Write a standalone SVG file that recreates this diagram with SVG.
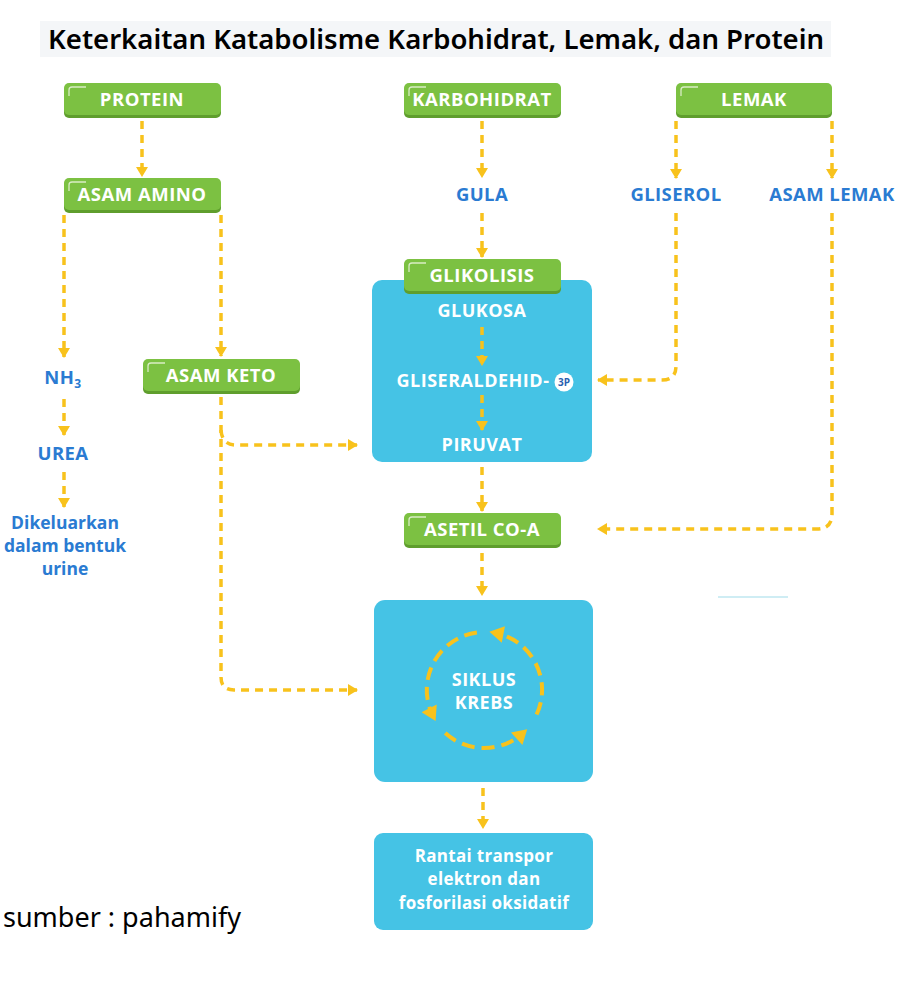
<svg xmlns="http://www.w3.org/2000/svg" width="914" height="987" viewBox="0 0 914 987">
<defs>
<marker id="arr" viewBox="0 0 10 12" refX="9" refY="6" markerWidth="10" markerHeight="12" markerUnits="userSpaceOnUse" orient="auto">
<path d="M0,0 L10,6 L0,12 z" fill="#f8c21c"/>
</marker>
<marker id="arrK" viewBox="0 0 10 12" refX="6" refY="6" markerWidth="15" markerHeight="17" markerUnits="userSpaceOnUse" orient="auto">
<path d="M0,0 L10,6 L0,12 z" fill="#f8c21c"/>
</marker>
<style>
.gbox{fill:#7cc142}
.gsh{fill:#5f9e2d}
.hl{fill:none;stroke:#e9f5dc;stroke-width:1.3;opacity:.85}
.bbox{fill:#45c3e5}
.gt{font-family:"Open Sans","Noto Sans",sans-serif;font-weight:700;font-size:18.5px;fill:#ffffff;text-anchor:middle;letter-spacing:0.5px}
.bt{font-family:"Open Sans","Noto Sans",sans-serif;font-weight:700;font-size:18.5px;fill:#2a7bd2;text-anchor:middle;letter-spacing:0.4px}
.lt{font-family:"Open Sans","Noto Sans",sans-serif;font-weight:700;font-size:17.5px;fill:#2a7bd2;text-anchor:middle}
.wt{font-family:"Open Sans","Noto Sans",sans-serif;font-weight:700;font-size:18px;fill:#ffffff;text-anchor:middle;letter-spacing:0.5px}
.st{font-family:"Open Sans","Noto Sans",sans-serif;font-weight:700;font-size:17px;fill:#ffffff;text-anchor:middle;letter-spacing:0.3px}
.con{fill:none;stroke:#f8c21c;stroke-width:3.5;stroke-dasharray:8 6}
.kc{fill:none;stroke:#f8c21c;stroke-width:4;stroke-dasharray:13 7}
</style>
</defs>
<rect width="914" height="987" fill="#ffffff"/>
<g id="title">
<rect x="40" y="21" width="791" height="36" fill="#f4f6f8"/>
<text x="48" y="49" font-family="'Noto Sans','Open Sans',sans-serif" font-weight="600" font-size="27" fill="#000000" textLength="776" lengthAdjust="spacingAndGlyphs">Keterkaitan Katabolisme Karbohidrat, Lemak, dan Protein</text>
</g>
<line x1="718" y1="597" x2="788" y2="597" stroke="#bfe7f1" stroke-width="1.5"/>

<g id="glikolisis-box">
<rect class="bbox" x="372" y="280" width="220" height="182" rx="10"/>
<text class="wt" x="482" y="317">GLUKOSA</text>
<text class="wt" x="473" y="387">GLISERALDEHID-</text>
<circle cx="564" cy="382" r="9.5" fill="#ffffff"/>
<text x="564" y="386" font-family="'Open Sans',sans-serif" font-weight="700" font-size="10" fill="#2a5fb0" text-anchor="middle">3P</text>
<text class="wt" x="482" y="451">PIRUVAT</text>
</g>
<g id="krebs-box">
<rect class="bbox" x="374" y="600" width="219" height="182" rx="11"/>
<text class="wt" x="484" y="686">SIKLUS</text>
<text class="wt" x="484" y="709">KREBS</text>
<path class="kc" d="M536.6,714.5 A58,58 0 0 0 495,632.9" marker-end="url(#arrK)"/>
<path class="kc" d="M476.9,632.4 A58,58 0 0 0 433,716" marker-end="url(#arrK)"/>
<path class="kc" d="M445.2,733.1 A58,58 0 0 0 523,733" marker-end="url(#arrK)"/>
</g>
<g id="rantai-box">
<rect class="bbox" x="374" y="833" width="219" height="97" rx="9"/>
<text class="st" x="484" y="862">Rantai transpor</text>
<text class="st" x="484" y="885">elektron dan</text>
<text class="st" x="484" y="909">fosforilasi oksidatif</text>
</g>

<g id="protein">
<rect class="gsh" x="64" y="85" width="157" height="33" rx="5"/>
<rect class="gbox" x="64" y="83" width="157" height="32" rx="5"/>
<path class="hl" d="M69,96 V90 Q69,87 72,87 H86"/>
<text class="gt" x="142" y="106">PROTEIN</text>
</g>
<g id="asam-amino">
<rect class="gsh" x="64" y="180" width="157" height="33" rx="5"/>
<rect class="gbox" x="64" y="178" width="157" height="32" rx="5"/>
<path class="hl" d="M69,191 V185 Q69,182 72,182 H86"/>
<text class="gt" x="142" y="201">ASAM AMINO</text>
</g>
<g id="karbohidrat">
<rect class="gsh" x="404" y="85" width="157" height="33" rx="5"/>
<rect class="gbox" x="404" y="83" width="157" height="32" rx="5"/>
<path class="hl" d="M409,96 V90 Q409,87 412,87 H426"/>
<text class="gt" x="482" y="106">KARBOHIDRAT</text>
</g>
<g id="lemak">
<rect class="gsh" x="676" y="85" width="156" height="33" rx="5"/>
<rect class="gbox" x="676" y="83" width="156" height="32" rx="5"/>
<path class="hl" d="M681,96 V90 Q681,87 684,87 H698"/>
<text class="gt" x="754" y="106">LEMAK</text>
</g>
<g id="asam-keto">
<rect class="gsh" x="143" y="361" width="157" height="33" rx="5"/>
<rect class="gbox" x="143" y="359" width="157" height="32" rx="5"/>
<path class="hl" d="M148,372 V366 Q148,363 151,363 H165"/>
<text class="gt" x="221" y="382">ASAM KETO</text>
</g>
<g id="glikolisis">
<rect class="gsh" x="404" y="261" width="157" height="33" rx="5"/>
<rect class="gbox" x="404" y="259" width="157" height="32" rx="5"/>
<path class="hl" d="M409,272 V266 Q409,263 412,263 H426"/>
<text class="gt" x="482" y="282">GLIKOLISIS</text>
</g>
<g id="asetil">
<rect class="gsh" x="404" y="515" width="157" height="33" rx="5"/>
<rect class="gbox" x="404" y="513" width="157" height="32" rx="5"/>
<path class="hl" d="M409,526 V520 Q409,517 412,517 H426"/>
<text class="gt" x="482" y="536">ASETIL CO-A</text>
</g>

<g id="gula"><text class="bt" x="482" y="201">GULA</text></g>
<g id="gliserol"><text class="bt" x="676" y="201">GLISEROL</text></g>
<g id="asam-lemak"><text class="bt" x="832" y="201">ASAM LEMAK</text></g>
<g id="nh3"><text class="bt" x="63" y="384">NH<tspan font-size="12" dy="4">3</tspan></text></g>
<g id="urea"><text class="bt" x="63" y="460">UREA</text></g>
<g id="dikeluarkan">
<text class="lt" x="65" y="529">Dikeluarkan</text>
<text class="lt" x="65" y="552">dalam bentuk</text>
<text class="lt" x="65" y="575">urine</text>
</g>

<g id="connectors">
<path class="con" d="M142,121 L142,176" marker-end="url(#arr)"/>
<path class="con" d="M64,215 L64,357" marker-end="url(#arr)"/>
<path class="con" d="M221,215 L221,356" marker-end="url(#arr)"/>
<path class="con" d="M64,399 L64,435" marker-end="url(#arr)"/>
<path class="con" d="M64,472 L64,507" marker-end="url(#arr)"/>
<path class="con" d="M221,397 L221,677 Q221,690 234,690 L357,690" marker-end="url(#arr)"/>
<path class="con" d="M221,430 Q222,445 236,445 L357,445" marker-end="url(#arr)"/>
<path class="con" d="M482,121 L482,177" marker-end="url(#arr)"/>
<path class="con" d="M482,213 L482,257" marker-end="url(#arr)"/>
<path class="con" d="M482,327 L482,365" marker-end="url(#arr)"/>
<path class="con" d="M482,395 L482,430" marker-end="url(#arr)"/>
<path class="con" d="M482,467 L482,511" marker-end="url(#arr)"/>
<path class="con" d="M482,553 L482,595" marker-end="url(#arr)"/>
<path class="con" d="M483,788 L483,828" marker-end="url(#arr)"/>
<path class="con" d="M676,121 L676,178" marker-end="url(#arr)"/>
<path class="con" d="M832,121 L832,178" marker-end="url(#arr)"/>
<path class="con" d="M676,213 L676,366 Q676,380 662,380 L598,380" marker-end="url(#arr)"/>
<path class="con" d="M832,213 L832,514 Q832,529 817,529 L598,529" marker-end="url(#arr)"/>
</g>

<text x="3" y="927" font-family="'Noto Sans','Open Sans',sans-serif" font-size="27" fill="#000000">sumber : pahamify</text>
</svg>
